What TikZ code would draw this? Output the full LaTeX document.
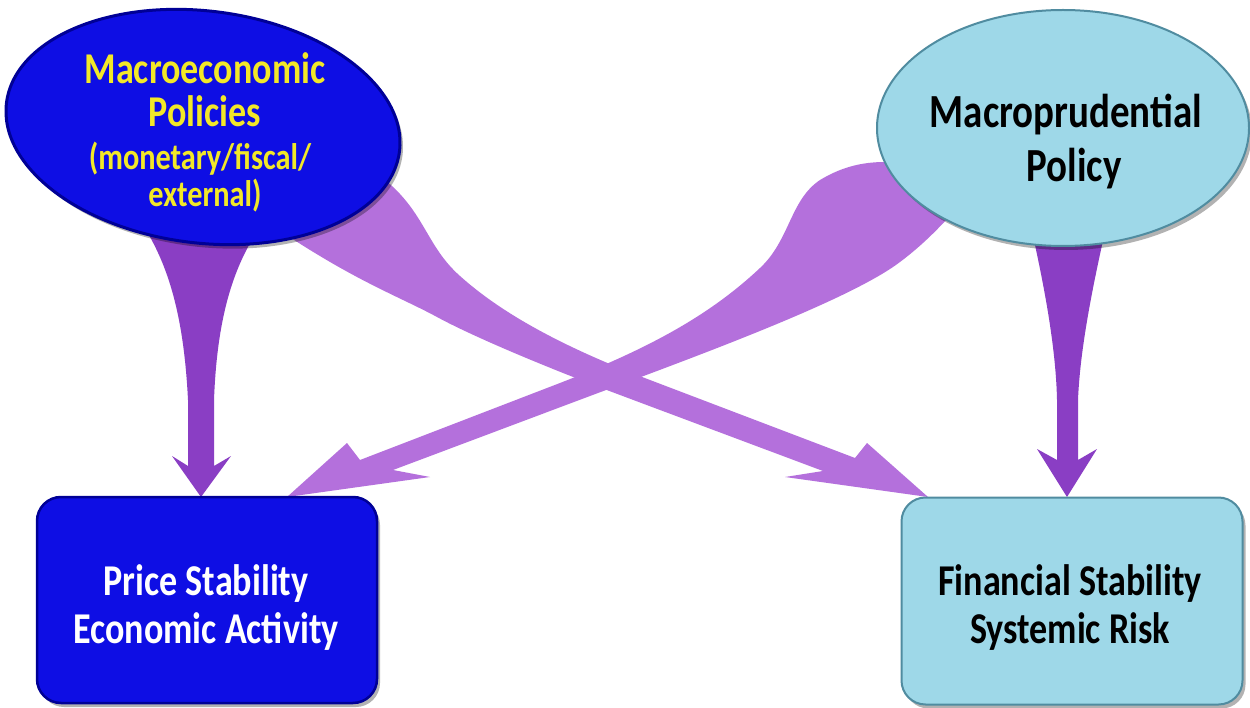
\documentclass[tikz,border=0pt]{standalone}
\usepackage{fontspec}
\setmainfont{Carlito}[FakeStretch=0.82]
\usetikzlibrary{shapes.geometric,shadows}
\definecolor{dblue}{RGB}{14,14,228}
\definecolor{dblueedge}{RGB}{0,0,150}
\definecolor{lblue}{RGB}{158,216,232}
\definecolor{lblueedge}{RGB}{80,140,160}
\definecolor{ytext}{RGB}{242,232,40}
\definecolor{darrow}{RGB}{138,62,196}
\definecolor{larrow}{RGB}{180,112,220}
\begin{document}
\begin{tikzpicture}[x=1pt,y=-1pt,
  tw/.style={anchor=base, inner sep=0pt, font=\bfseries\fontsize{44}{48}\selectfont},
  twsmall/.style={tw, font=\bfseries\fontsize{37}{40}\selectfont},
  shad/.style={drop shadow={shadow xshift=3pt, shadow yshift=-4pt, opacity=0.3, fill=black}},
  ellblue/.style={ellipse, fill=dblue, draw=dblueedge, line width=3pt, shad},
  elllight/.style={ellipse, fill=lblue, draw=lblueedge, line width=2pt, shad},
  boxblue/.style={rectangle, rounded corners=24pt, fill=dblue, draw=dblueedge, line width=2.5pt, shad},
  boxlight/.style={rectangle, rounded corners=24pt, fill=lblue, draw=lblueedge, line width=2pt, shad}
]
\useasboundingbox (0,0) rectangle (1250,708);
\fill[white] (0,0) rectangle (1250,708);

% tip coordinates
\coordinate (tipS1) at (201,497);
\coordinate (tipS2) at (1067,497);
\coordinate (tipR1) at (928,497);
\coordinate (tipL1) at (287,497);

% curved arrow from Macroeconomic Policies to Financial Stability
\fill[larrow] (tipR1) -- (867,443) -- (855,458) -- (650,380)
  .. controls (560,346) and (500,312) .. (460,276)
  .. controls (425,245) and (425,210) .. (380,176)
  -- (330,190) -- (288,236)
  .. controls (360,283) and (400,297) .. (437,317)
  .. controls (470,335) and (540,365) .. (620,395)
  -- (823,471) -- (785,477) -- cycle;

% curved arrow from Macroprudential Policy to Price Stability
\fill[larrow] (tipL1) -- (347,443) -- (360,460) -- (560,383)
  .. controls (650,348) and (710,315) .. (760,268)
  .. controls (790,240) and (790,200) .. (820,180)
  .. controls (840,168) and (860,162) .. (885,162)
  -- (940,180) -- (948,218)
  .. controls (935,232) and (920,247) .. (900,262)
  .. controls (850,300) and (700,355) .. (590,396)
  -- (393,470) -- (430,477) -- cycle;

% straight arrows
\fill[darrow] (146,230) .. controls (170,270) and (184,320) .. (188,400)
  -- (188,466) -- (172,456) -- (tipS1) -- (231,456) -- (214,466) -- (214,400)
  .. controls (217,320) and (232,270) .. (258,230) -- cycle;
\fill[darrow] (1033,236) .. controls (1045,290) and (1056,350) .. (1057,400)
  -- (1057,460) -- (1037,449) -- (tipS2) -- (1097,449) -- (1078,460) -- (1078,400)
  .. controls (1080,350) and (1092,290) .. (1104,236) -- cycle;

% nodes
\node[ellblue, minimum width=396pt, minimum height=232pt, rotate=-7] (macro) at (203,127) {};
\node[elllight, minimum width=372pt, minimum height=236pt] (macropru) at (1063,128) {};
\node[boxblue, minimum width=340pt, minimum height=206pt] (price) at (207,600) {};
\node[boxlight, minimum width=341pt, minimum height=207pt] (fin) at (1072,601) {};

% texts
\node[tw, text=ytext] (mac1) at (205,84) {Macroeconomic};
\node[tw, text=ytext] (mac2) at (205,127) {Policies};
\node[twsmall, text=ytext] (mac3) at (200,170) {(monetary/fiscal/};
\node[twsmall, text=ytext] (mac4) at (205,207) {external)};

\node[tw, font=\bfseries\fontsize{47.5}{52}\selectfont] (mp1) at (1066,128) {Macroprudential};
\node[tw, font=\bfseries\fontsize{47.5}{52}\selectfont] (mp2) at (1074,182) {Policy};

\node[tw, text=white] (ps1) at (206,595) {Price Stability};
\node[tw, text=white] (ps2) at (206,643) {Economic Activity};
\node[tw] (fs1) at (1070,595) {Financial Stability};
\node[tw] (fs2) at (1070,643) {Systemic Risk};
\end{tikzpicture}
\end{document}
